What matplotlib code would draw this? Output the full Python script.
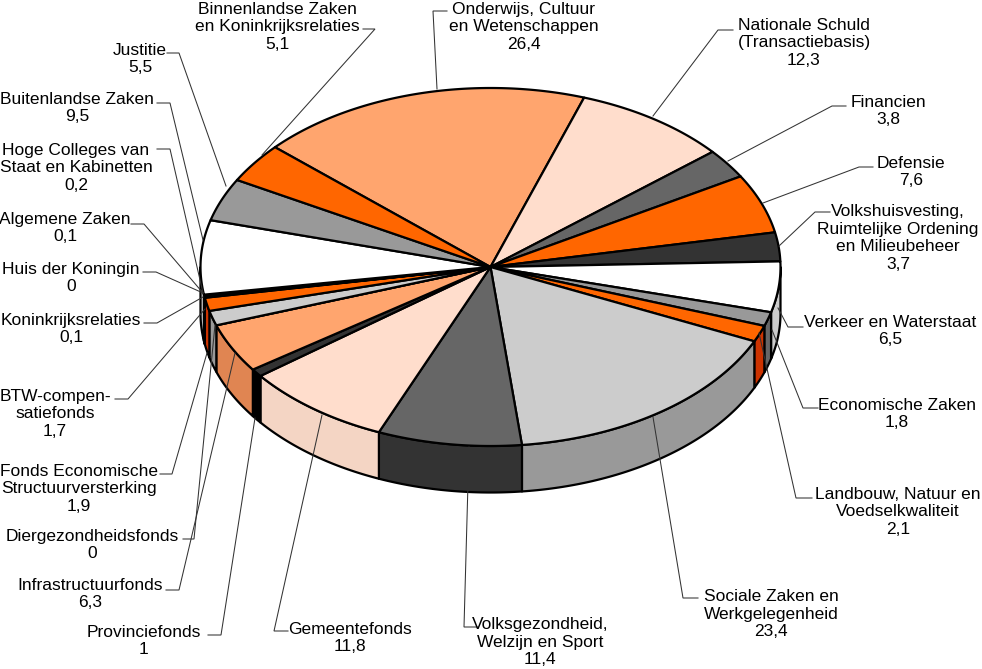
import numpy as np
import matplotlib
matplotlib.use("Agg")
import matplotlib.pyplot as plt

# --- data ---
names = [
    "Onderwijs, Cultuur\nen Wetenschappen", "Nationale Schuld\n(Transactiebasis)", "Financien", "Defensie",
    "Volkshuisvesting,\nRuimtelijke Ordening\nen Milieubeheer", "Verkeer en Waterstaat", "Economische Zaken",
    "Landbouw, Natuur en\nVoedselkwaliteit", "Sociale Zaken en\nWerkgelegenheid", "Volksgezondheid,\nWelzijn en Sport",
    "Gemeentefonds", "Provinciefonds", "Infrastructuurfonds", "Diergezondheidsfonds",
    "Fonds Economische\nStructuurversterking", "BTW-compen-\nsatiefonds", "Koninkrijksrelaties", "Huis der Koningin",
    "Algemene Zaken", "Hoge Colleges van\nStaat en Kabinetten", "Buitenlandse Zaken", "Justitie",
    "Binnenlandse Zaken\nen Koninkrijksrelaties",
]
values = [26.4, 12.3, 3.8, 7.6, 3.7, 6.5, 1.8, 2.1, 23.4, 11.4, 11.8, 1, 6.3, 0, 1.9, 1.7, 0.1, 0, 0.1, 0.2, 9.5, 5.5, 5.1]

# --- styles ---
PEACH, BLUSH, G6, ORANGE, G3, WHITE, G9, GC, BLACK = "#FFA56E", "#FFDDCC", "#666666", "#FF6600", "#333333", "#FFFFFF", "#999999", "#CCCCCC", "#000000"
top_colors = [PEACH, BLUSH, G6, ORANGE, G3, WHITE, G9, ORANGE, GC, G6, BLUSH, G3, PEACH, BLACK, GC, ORANGE, G9, G3, G6, BLACK, WHITE, G9, ORANGE]
side_map = {PEACH: "#E08552", BLUSH: "#F4D5C4", G6: "#333333", ORANGE: "#CC3300", G3: "#000000", WHITE: "#CCCCCC",
            G9: "#666666", GC: "#999999", BLACK: "#000000"}

# --- layout (pixels): label centre x, block centre y, leader polyline ---
layout = [
    (524, 27, [(447, 11), (433, 11), (437, 89)]),
    (804, 43, [(733, 30), (718, 30), (653, 116)]),
    (888, 111, [(846, 106), (832, 106), (728, 161)]),
    (911, 172, [(873, 167), (859, 167), (763, 203)]),
    (898, 238, [(830, 212), (815, 212), (779, 246)]),
    (890, 331, [(803, 327), (788, 327), (778, 308)]),
    (897, 414, [(818, 408), (803, 408), (772, 330)]),
    (898, 512, [(812, 498), (796, 498), (759, 333)]),
    (771, 614, [(698, 598), (683, 598), (653, 417)]),
    (540, 642, [(478, 627), (464, 627), (469, 447)]),
    (350, 638, [(288, 631), (274, 631), (322, 415)]),
    (144, 641, [(208, 635), (221, 635), (255, 418)]),
    (90, 594, [(166, 590), (179, 590), (235, 353)]),
    (92, 545, [(183, 539), (194, 539), (215, 325)]),
    (79, 489, [(160, 474), (172, 474), (207, 353)]),
    (55, 414, [(115, 399), (128, 399), (205, 309)]),
    (71, 329, [(144, 323), (157, 323), (203, 297)]),
    (71, 278, [(143, 272), (156, 272), (203, 293)]),
    (65, 228, [(131, 224), (144, 224), (203, 293)]),
    (76, 168, [(157, 149), (170, 149), (203, 293)]),
    (77, 108, [(157, 103), (170, 103), (203, 240)]),
    (140, 59, [(167, 53), (179, 53), (226, 186)]),
    (277, 27, [(363, 29), (375, 29), (262, 155)]),
]

CX, CY, RX, RY, DEPTH, START = 490.5, 267, 290, 179, 46.5, -48.0

fig = plt.figure(figsize=(9.82, 6.69), dpi=100)
ax = fig.add_axes([0, 0, 1, 1])
ax.set_xlim(0, 982)
ax.set_ylim(669, 0)
ax.axis("off")


def rim(t):
    r = np.radians(t)
    return CX + RX * np.sin(r), CY - RY * np.cos(r)


edges = START + np.cumsum([0] + values) / np.sum(values) * 360.0

# outer wall
for a0, a1, c in zip(edges[:-1], edges[1:], top_colors):
    lo, hi = max(a0, 90), min(a1, 270)
    if hi <= lo:
        continue
    th = np.linspace(lo, hi, 80)
    x, y = rim(th)
    ax.fill(np.r_[x, x[::-1]], np.r_[y, y[::-1] + DEPTH], fc=side_map[c], ec="black", lw=1.6, joinstyle="round", zorder=2)

# top faces
for a0, a1, c in zip(edges[:-1], edges[1:], top_colors):
    th = np.linspace(a0, a1, max(int((a1 - a0) * 3), 2))
    x, y = rim(th)
    ax.fill(np.r_[CX, x], np.r_[CY, y], fc=c, ec="black", lw=1.6, joinstyle="round", zorder=3)

# labels and leaders
for name, v, (lx, ly, pts) in zip(names, values, layout):
    px, py = zip(*pts)
    ax.plot(px, py, color="#333333", lw=0.75, zorder=4, solid_joinstyle="miter")
    ax.text(lx, ly, f"{name}\n{v:g}".replace(".", ","), ha="center", va="center", multialignment="center",
            family="Liberation Sans", fontsize=12.5, linespacing=1.24, color="black", zorder=5)

fig.savefig("out.png", dpi=100, facecolor="white")
